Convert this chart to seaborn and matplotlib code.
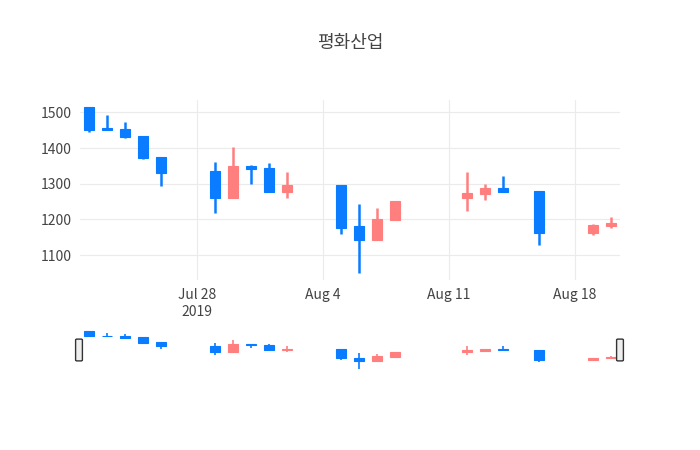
import matplotlib
matplotlib.use("Agg")
import matplotlib.pyplot as plt
import matplotlib.dates as mdates
from matplotlib.patches import FancyBboxPatch
import seaborn as sns
import pandas as pd
import numpy as np

dates = ["2019-07-22","2019-07-23","2019-07-24","2019-07-25","2019-07-26",
         "2019-07-29","2019-07-30","2019-07-31","2019-08-01","2019-08-02",
         "2019-08-05","2019-08-06","2019-08-07","2019-08-08",
         "2019-08-12","2019-08-13","2019-08-14","2019-08-16",
         "2019-08-19","2019-08-20"]
opens  = [1515,1456,1455,1434,1375,1335,1261,1351,1345,1277,1296,1181,1142,1197,1261,1271,1289,1280,1162,1181]
highs  = [1515,1493,1474,1434,1375,1362,1403,1353,1357,1332,1296,1243,1232,1251,1332,1298,1323,1280,1186,1208]
lows   = [1444,1450,1429,1370,1295,1219,1260,1299,1276,1259,1159,1050,1142,1197,1224,1254,1276,1129,1155,1175]
closes = [1451,1451,1430,1371,1331,1261,1350,1342,1276,1296,1177,1142,1201,1251,1275,1289,1276,1162,1185,1191]
title = "평화산업"

df = pd.DataFrame({"date": pd.to_datetime(dates), "open": opens, "high": highs,
                   "low": lows, "close": closes})
df["x"] = mdates.date2num(df["date"])

sns.set_theme(style="white")
plt.rcParams['font.family'] = ['Noto Sans CJK KR', 'DejaVu Sans']

UP, DOWN = "#FF7F7F", "#0A7CFF"
fig = plt.figure(figsize=(7, 4.5), dpi=100)
ax = fig.add_axes([80/700, 1-280/450, 540/700, 180/450])
ax2 = fig.add_axes([80/700, 1-370/450, 540/700, 40/450])

def candles(a, lw, bw):
    for _, r in df.iterrows():
        c = UP if r.close >= r.open else DOWN
        a.vlines(r.x, r.low, r.high, color=c, lw=lw, zorder=3)
        lo, hi = min(r.open, r.close), max(r.open, r.close)
        a.bar(r.x, max(hi - lo, 2), bottom=lo, width=bw, color=c, edgecolor=c, lw=0.8, zorder=4)

xmin = mdates.date2num(pd.Timestamp("2019-07-21 12:00"))
xmax = mdates.date2num(pd.Timestamp("2019-08-20 12:00"))

candles(ax, 1.8, 0.55)
ax.set_xlim(xmin, xmax)
ax.set_ylim(1030, 1535)
ax.set_yticks([1100, 1200, 1300, 1400, 1500])
ticks = pd.to_datetime(["2019-07-28", "2019-08-04", "2019-08-11", "2019-08-18"])
ax.set_xticks(mdates.date2num(ticks))
ax.set_xticklabels(["Jul 28\n2019", "Aug 4", "Aug 11", "Aug 18"])
ax.grid(True, color="#ebebeb", lw=0.8)
ax.set_axisbelow(True)
for s in ax.spines.values():
    s.set_visible(False)
ax.tick_params(colors="#444444", labelsize=10, length=0, pad=6)

candles(ax2, 1.2, 0.55)
ax2.set_xlim(xmin, xmax)
ax2.set_ylim(1035, 1525)
ax2.set_xticks([]); ax2.set_yticks([])
for s in ax2.spines.values():
    s.set_visible(False)
for px in (79, 620):
    fig.patches.append(FancyBboxPatch(((px-2)/700, 1-360/450), 4/700, 20/450,
                       boxstyle="round,pad=0.002", fc="#eeeeee", ec="#333333", lw=1,
                       transform=fig.transFigure, figure=fig, zorder=10))

fig.text(0.5, 1-43/450, title, ha="center", va="center", fontsize=13, color="#444444")
fig.savefig("out.png", dpi=100)
